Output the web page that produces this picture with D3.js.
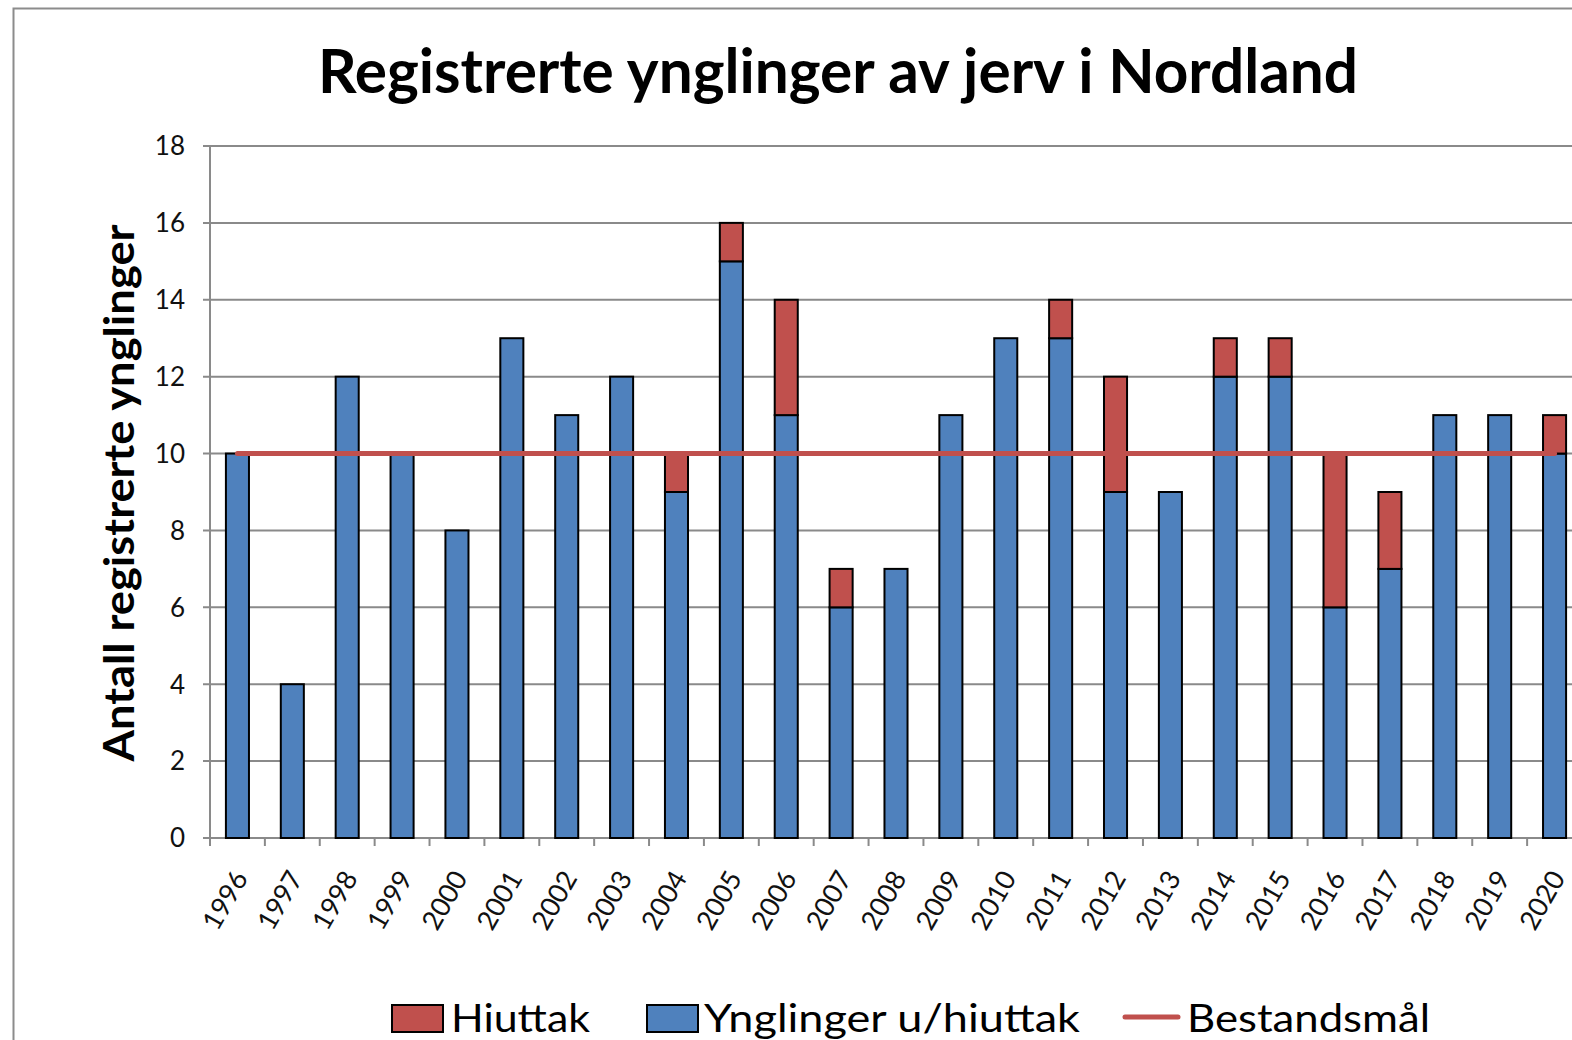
<!DOCTYPE html>
<html>
<head>
<meta charset="utf-8">
<script src="https://cdn.jsdelivr.net/npm/d3@7"></script>
<style>
  html, body { margin: 0; padding: 0; background: #fff; overflow: hidden; }
  svg { display: block; }
</style>
</head>
<body>
<svg id="chart" width="1572" height="1040"></svg>
<script>
const years = ["1996","1997","1998","1999","2000","2001","2002","2003","2004","2005","2006","2007","2008","2009","2010","2011","2012","2013","2014","2015","2016","2017","2018","2019","2020"];
const ynglinger = [10,4,12,10,8,13,11,12,9,15,11,6,7,11,13,13,9,9,12,12,6,7,11,11,10];
const hiuttak   = [0,0,0,0,0,0,0,0,1,1,3,1,0,0,0,1,3,0,1,1,4,2,0,0,1];
const bestandsmaal = [10,10,10,10,10,10,10,10,10,10,10,10,10,10,10,10,10,10,10,10,10,10,10,10,10];
const yTicks = [0,2,4,6,8,10,12,14,16,18];
const titleText = "Registrerte ynglinger av jerv i Nordland";
const yTitle = "Antall registrerte ynglinger";
const legendItems = ["Hiuttak", "Ynglinger u/hiuttak", "Bestandsmål"];

const BLUE = "#4F81BD", RED = "#C0504D", GRID = "#8a8a8a";
const svg = d3.select("#chart");

// chart frame
svg.append("rect").attr("x", 13.5).attr("y", 8.5).attr("width", 1700).attr("height", 1200)
  .attr("fill", "#fff").attr("stroke", "#8c8c8c").attr("stroke-width", 2);

const x = d3.scaleBand().domain(years).range([210, 1582]).padding(0);
const y = d3.scaleLinear().domain([0, 18]).range([838, 146]);
const barW = x.bandwidth() * 0.42;
const cx = d => x(d) + x.bandwidth() / 2;

// gridlines
svg.append("g").selectAll("line").data(yTicks).join("line")
  .attr("x1", 203).attr("x2", 1700)
  .attr("y1", d => y(d)).attr("y2", d => y(d))
  .attr("stroke", GRID).attr("stroke-width", 2);

// y axis line
svg.append("line").attr("x1", 210).attr("x2", 210).attr("y1", y(18)).attr("y2", y(0))
  .attr("stroke", GRID).attr("stroke-width", 2);

// y tick labels
svg.append("g").selectAll("text").data(yTicks).join("text")
  .attr("x", 185).attr("y", d => y(d)).attr("dy", "0.36em")
  .attr("text-anchor", "end")
  .attr("font-family", "Lato, 'Open Sans', sans-serif").attr("font-size", 26).attr("fill", "#111")
  .text(d => d);

// x ticks at band boundaries
const xTickPos = years.map(d => x(d)).concat([x.range()[1]]);
svg.append("g").selectAll("line").data(xTickPos).join("line")
  .attr("x1", d => d).attr("x2", d => d).attr("y1", y(0)).attr("y2", y(0) + 8)
  .attr("stroke", GRID).attr("stroke-width", 2);

// x labels
svg.append("g").selectAll("text").data(years).join("text")
  .attr("transform", d => `translate(${cx(d) + 3},873) rotate(-60)`)
  .attr("text-anchor", "end").attr("dy", "0.36em")
  .attr("font-family", "Lato, 'Open Sans', sans-serif").attr("font-size", 27).attr("fill", "#111")
  .text(d => d);

// bars: blue (ynglinger u/hiuttak)
svg.append("g").selectAll("rect").data(years).join("rect")
  .attr("x", d => cx(d) - barW / 2).attr("width", barW)
  .attr("y", (d, i) => y(ynglinger[i]))
  .attr("height", (d, i) => y(0) - y(ynglinger[i]))
  .attr("fill", BLUE).attr("stroke", "#000").attr("stroke-width", 2);

// bars: red (hiuttak)
svg.append("g").selectAll("rect").data(years.filter((d, i) => hiuttak[i] > 0)).join("rect")
  .attr("x", d => cx(d) - barW / 2).attr("width", barW)
  .attr("y", d => { const i = years.indexOf(d); return y(ynglinger[i] + hiuttak[i]); })
  .attr("height", d => { const i = years.indexOf(d); return y(ynglinger[i]) - y(ynglinger[i] + hiuttak[i]); })
  .attr("fill", RED).attr("stroke", "#000").attr("stroke-width", 2);

// Bestandsmål line
const line = d3.line().x((d, i) => cx(years[i])).y(d => y(d));
svg.append("path").datum(bestandsmaal).attr("d", line)
  .attr("fill", "none").attr("stroke", RED).attr("stroke-width", 5).attr("stroke-linecap", "round");

// title
svg.append("text").attr("x", 838).attr("y", 93).attr("text-anchor", "middle")
  .attr("font-family", "Lato, 'Open Sans', sans-serif").attr("font-weight", "bold")
  .attr("font-size", 62).attr("fill", "#000")
  .attr("textLength", 1040).attr("lengthAdjust", "spacingAndGlyphs")
  .text(titleText);

// y title
svg.append("text").attr("transform", "translate(134,493) rotate(-90)")
  .attr("text-anchor", "middle")
  .attr("font-family", "Lato, 'Open Sans', sans-serif").attr("font-weight", "bold")
  .attr("font-size", 42).attr("fill", "#000")
  .attr("textLength", 537).attr("lengthAdjust", "spacingAndGlyphs")
  .text(yTitle);

// legend
const lg = svg.append("g").attr("font-family", "Lato, 'Open Sans', sans-serif").attr("font-size", 39).attr("fill", "#000");
lg.append("rect").attr("x", 392).attr("y", 1005).attr("width", 51).attr("height", 27)
  .attr("fill", RED).attr("stroke", "#000").attr("stroke-width", 2);
lg.append("text").attr("x", 451).attr("y", 1032).attr("textLength", 139).attr("lengthAdjust", "spacingAndGlyphs").text(legendItems[0]);
lg.append("rect").attr("x", 647).attr("y", 1005).attr("width", 51).attr("height", 27)
  .attr("fill", BLUE).attr("stroke", "#000").attr("stroke-width", 2);
lg.append("text").attr("x", 704).attr("y", 1032).attr("textLength", 376).attr("lengthAdjust", "spacingAndGlyphs").text(legendItems[1]);
lg.append("line").attr("x1", 1125).attr("x2", 1178).attr("y1", 1017).attr("y2", 1017)
  .attr("stroke", RED).attr("stroke-width", 5).attr("stroke-linecap", "round");
lg.append("text").attr("x", 1187).attr("y", 1032).attr("textLength", 243).attr("lengthAdjust", "spacingAndGlyphs").text(legendItems[2]);
</script>
</body>
</html>
